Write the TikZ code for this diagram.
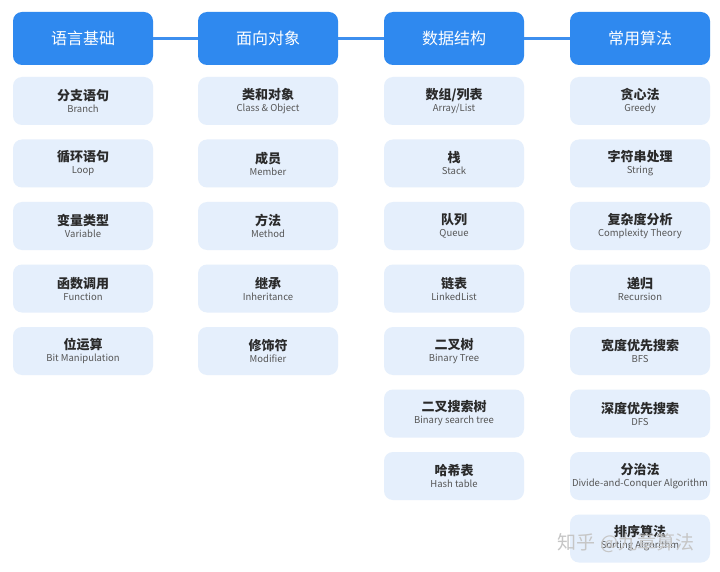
\documentclass[tikz,border=0pt]{standalone}
\usepackage{fontspec}
\setmainfont{Noto Sans CJK SC}
\definecolor{hdr}{HTML}{2F89EF}
\definecolor{sub}{HTML}{E5EFFC}
\definecolor{ttl}{HTML}{2A2A2A}
\definecolor{eng}{HTML}{555555}
\definecolor{link}{HTML}{3D8FEF}
\begin{document}
\begin{tikzpicture}[x=1pt,y=-1pt,
  hdrbox/.style={fill=hdr,rounded corners=9pt,minimum width=140pt,minimum height=53pt,inner sep=0pt,text=white,font=\fontsize{16}{18}\selectfont},
  subbox/.style={fill=sub,rounded corners=9pt,minimum width=140pt,minimum height=48pt,inner sep=0pt,align=center},
  conn/.style={draw=link,line width=2.2pt}]
\useasboundingbox (0,0) rectangle (720,572);
\fill[white] (0,0) rectangle (720,572);
\newcommand{\itm}[2]{{\fontsize{13}{15}\selectfont\bfseries\color{ttl}#1}\\[0pt]{\fontsize{9.5}{11}\selectfont\color{eng}#2}}
% headers
\node[hdrbox] (h1) at (83,38.5) {语言基础};
\node[hdrbox] (h2) at (268,38.5) {面向对象};
\node[hdrbox] (h3) at (454,38.5) {数据结构};
\node[hdrbox] (h4) at (640,38.5) {常用算法};
\draw[conn] (h1.east) -- (h2.west);
\draw[conn] (h2.east) -- (h3.west);
\draw[conn] (h3.east) -- (h4.west);
% column 1
\node[subbox] (a1) at (83,101) {\itm{分支语句}{Branch}};
\node[subbox] (a2) at (83,163.5) {\itm{循环语句}{Loop}};
\node[subbox] (a3) at (83,226) {\itm{变量类型}{Variable}};
\node[subbox] (a4) at (83,288.5) {\itm{函数调用}{Function}};
\node[subbox] (a5) at (83,351) {\itm{位运算}{Bit Manipulation}};
% column 2
\node[subbox] (b1) at (268,101) {\itm{类和对象}{Class \& Object}};
\node[subbox] (b2) at (268,163.5) {\itm{成员}{Member}};
\node[subbox] (b3) at (268,226) {\itm{方法}{Method}};
\node[subbox] (b4) at (268,288.5) {\itm{继承}{Inheritance}};
\node[subbox] (b5) at (268,351) {\itm{修饰符}{Modifier}};
% column 3
\node[subbox] (c1) at (454,101) {\itm{数组/列表}{Array/List}};
\node[subbox] (c2) at (454,163.5) {\itm{栈}{Stack}};
\node[subbox] (c3) at (454,226) {\itm{队列}{Queue}};
\node[subbox] (c4) at (454,288.5) {\itm{链表}{LinkedList}};
\node[subbox] (c5) at (454,351) {\itm{二叉树}{Binary Tree}};
\node[subbox] (c6) at (454,413.5) {\itm{二叉搜索树}{Binary search tree}};
\node[subbox] (c7) at (454,476) {\itm{哈希表}{Hash table}};
% column 4
\node[subbox] (d1) at (640,101) {\itm{贪心法}{Greedy}};
\node[subbox] (d2) at (640,163.5) {\itm{字符串处理}{String}};
\node[subbox] (d3) at (640,226) {\itm{复杂度分析}{Complexity Theory}};
\node[subbox] (d4) at (640,288.5) {\itm{递归}{Recursion}};
\node[subbox] (d5) at (640,351) {\itm{宽度优先搜索}{BFS}};
\node[subbox] (d6) at (640,413.5) {\itm{深度优先搜索}{DFS}};
\node[subbox] (d7) at (640,476) {\itm{分治法}{Divide-and-Conquer Algorithm}};
\node[subbox] (d8) at (640,538.5) {\itm{排序算法}{Sorting Algorithm}};
% watermark
\node[text=gray!45,font=\fontsize{19}{21}\selectfont,anchor=center] (wm) at (626,543) {知乎 @九章算法};
\end{tikzpicture}
\end{document}
